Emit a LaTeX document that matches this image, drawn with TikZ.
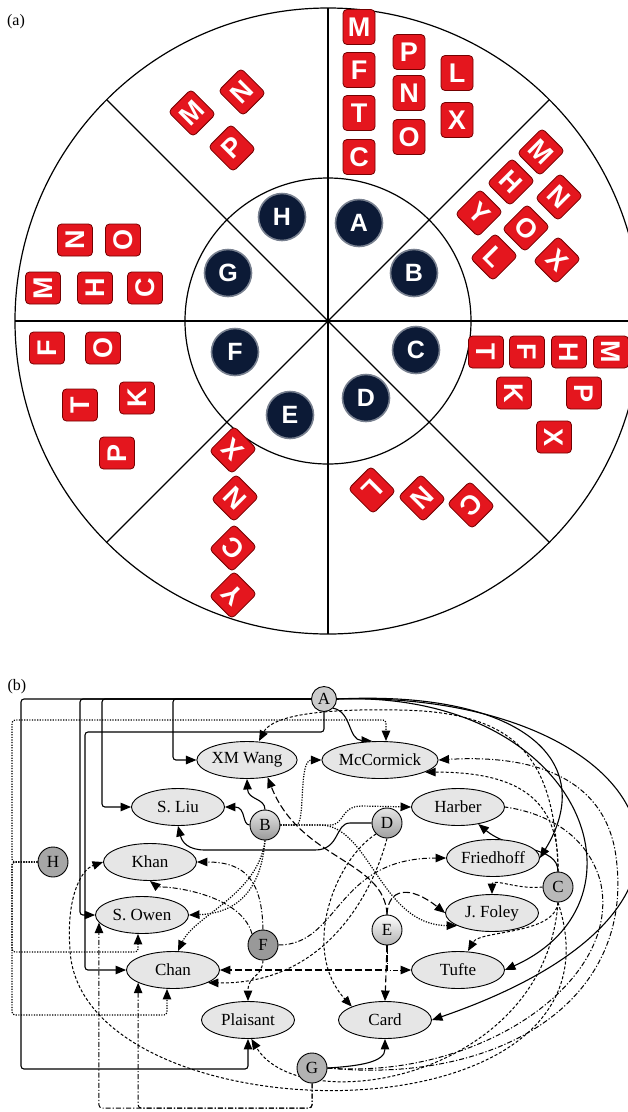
\documentclass[tikz,border=0pt]{standalone}
\usepackage{fontspec}
\setmainfont{Liberation Serif}
\newfontfamily\tilefont{Liberation Sans}
\usetikzlibrary{shapes.geometric, arrows.meta, positioning, backgrounds}
\definecolor{tilered}{RGB}{228,22,30}
\definecolor{knobblue}{RGB}{12,26,54}
\definecolor{authfill}{RGB}{230,230,230}

\begin{document}
\begin{tikzpicture}[x=1pt, y=-1pt, >={Triangle[length=10.5pt,width=8.5pt]},
  tilebox/.style={draw=red!45!black, line width=0.8pt, fill=tilered, rounded corners=4pt,
    minimum width=32pt, minimum height=35pt, inner sep=0pt, text=white,
    font=\tilefont\bfseries\fontsize{27}{27}\selectfont},
  knob/.style={circle, draw=knobblue!55!white, line width=1.6pt, fill=knobblue,
    minimum size=47pt, inner sep=0pt, text=white,
    font=\tilefont\bfseries\fontsize{25}{25}\selectfont},
  authornode/.style={ellipse, draw, line width=0.9pt, fill=authfill,
    minimum width=93pt, minimum height=37pt, inner sep=0pt,
    font=\fontsize{17}{17}\selectfont},
  letternode/.style={circle, draw, line width=0.9pt, minimum size=30pt,
    inner sep=0pt, font=\fontsize{17}{17}\selectfont},
  link/.style={->, line width=1.1pt},
  dotlink/.style={->, line width=1.2pt, dash pattern=on 1.2pt off 1.4pt},
  dashlink/.style={->, line width=1pt, dash pattern=on 3pt off 2pt},
  longlink/.style={->, line width=1.1pt, dash pattern=on 7pt off 3pt},
  dotdashlink/.style={->, line width=1pt, dash pattern=on 5pt off 2pt on 1.2pt off 2pt}]
\useasboundingbox (0,0) rectangle (628,1112);
\clip (0,0) rectangle (628,1112);

% (a) the wheel
\node[font=\fontsize{16}{16}\selectfont] (labela) at (16,22) {(a)};
\draw[line width=1.2pt] (328,321) circle[radius=313pt];
\draw[line width=1.2pt] (328,321) circle[radius=143pt];
\foreach \a in {0,45,...,315}
  \draw[line width=1.2pt] (328,321) -- ++(\a:313pt);

\foreach \l/\x/\y in {A/359/223, B/414/273, C/416/350, D/366/398,
                      E/290/415, F/235/352, G/228/273, H/282/217}
  \node[knob] (knob\l) at (\x,\y) {\l};

\foreach \l/\x/\y/\r [count=\i] in {
  M/359/27/0, F/359/70/0, T/359/113/0, C/359/157/0,
  P/409/52/0, N/409/93/0, O/409/137/0, L/457/73/0, X/457/120/0,
  M/192/113/45, N/242/92/45, P/232/148/45,
  M/541/152/-45, H/511/182/-45, N/559/197/-45, Y/479/213/-45,
  O/526/228/-45, L/494/257/-45, X/557/260/-45,
  N/75/240/90, O/123/240/90, M/43/288/90, H/95/288/90, C/145/288/90,
  F/47/348/90, O/103/348/90, T/80/405/90, K/137/398/90, P/117/453/90,
  X/233/450/135, N/235/498/135, C/233/548/135, Y/233/595/135,
  L/372/490/-135, N/422/498/-135, C/471/505/-135,
  T/486/352/-90, F/527/352/-90, H/569/352/-90, M/611/352/-90,
  K/514/393/-90, P/584/393/-90, X/554/437/-90}
  \node[tilebox, rotate=\r] (tile\i) at (\x,\y) {\l};

% (b) the graph
\node[font=\fontsize{16}{16}\selectfont] (labelb) at (17,687) {(b)};

\node[letternode, minimum size=25pt, fill=gray!40] (A) at (324,699) {A};
\node[letternode, top color=gray!20, bottom color=gray!80] (B) at (265,825) {B};
\node[letternode, fill=gray!55] (C) at (558,887) {C};
\node[letternode, top color=gray!20, bottom color=gray!75] (D) at (387,823) {D};
\node[letternode, top color=white, bottom color=gray!60] (E) at (387,930) {E};
\node[letternode, fill=gray!80] (F) at (263,945) {F};
\node[letternode, fill=gray!60] (G) at (312,1068) {G};
\node[letternode, fill=gray!70] (H) at (53,862) {H};

\node[authornode] (wang) at (247,760) {XM Wang};
\node[authornode, minimum width=102pt] (mccormick) at (380,760) {McCormick};
\node[authornode] (liu) at (178,807) {S. Liu};
\node[authornode] (harber) at (458,807) {Harber};
\node[authornode] (khan) at (150,862) {Khan};
\node[authornode] (friedhoff) at (493,858) {Friedhoff};
\node[authornode] (owen) at (142,915) {S. Owen};
\node[authornode] (foley) at (492,913) {J. Foley};
\node[authornode] (chan) at (173,970) {Chan};
\node[authornode] (tufte) at (458,970) {Tufte};
\node[authornode] (plaisant) at (248,1020) {Plaisant};
\node[authornode] (card) at (385,1020) {Card};

\begin{scope}[on background layer]
\clip (0,0) rectangle (628,1112);
% A
\draw[link, rounded corners=3pt] (A.west) -- (21,699) -- (21,1069) -| (plaisant.south);
\draw[link, rounded corners=3pt] (A.west) -- (80,699) |- (owen.west);
\draw[link, rounded corners=3pt] (A.west) -- (102,699) |- (liu.west);
\draw[link, rounded corners=3pt] (A.west) -- (173,699) |- (wang.west);
\draw[link, rounded corners=3pt] (A.south) -- (324,732) -- (85,732) |- (chan.west);
\draw[link] (A.south east) .. controls (352,712) and (348,740) .. ([xshift=-8pt]mccormick.north);
\draw[link] (A.east) .. controls (520,690) and (600,760) .. (friedhoff.east);
\draw[link] (A.east) .. controls (580,690) and (660,900) .. (tufte.east);
\draw[link] (A.east) .. controls (640,690) and (780,900) .. (card.east);
% H
\draw[dotlink, rounded corners=3pt] (H.west) -- (12,862) -- (12,720) -| ([xshift=6pt]mccormick.north);
\draw[dotlink, rounded corners=3pt] (H.west) -- (12,862) -- (12,952) -| ([xshift=-4pt]owen.south);
\draw[dotlink, rounded corners=3pt] (H.west) -- (12,862) -- (12,1015) -| ([xshift=-6pt]chan.south);
% B
\draw[link] (B.north) .. controls (265,798) and (248,800) .. (wang.south);
\draw[link] (B.west) .. controls (242,825) and (246,807) .. (liu.east);
\draw[dotlink] (B.east) -- (296,825) .. controls (306,825) and (298,760) .. (mccormick.west);
\draw[dotlink] (B.east) -- (330,825) .. controls (345,825) and (340,806) .. (362,806) -- (harber.west);
\draw[dotlink] (B.east) -- (320,825) .. controls (370,825) and (380,925) .. (foley.200);
\draw[dotlink] (B.south) .. controls (262,880) and (245,913) .. (owen.east);
\draw[dotlink] (B.south) .. controls (258,895) and (195,915) .. ([xshift=5pt]chan.north);
% D
\draw[link] (D.west) -- (350,823) .. controls (335,823) and (340,850) .. (315,850) -- (205,850)
  .. controls (188,850) and (182,842) .. (liu.south);
\draw[dashlink] (D.south west) .. controls (335,860) and (300,950) .. (card.north west);
\draw[dashlink] (D.south) .. controls (375,885) and (330,985) .. (chan.-20);
% C
\draw[link] (C.north) .. controls (558,845) and (512,852) .. (harber.-40);
\draw[dashlink] (C.north) .. controls (560,800) and (520,772) .. (mccormick.-15);
\draw[dashlink] (C.north) .. controls (555,760) and (520,712) .. (400,710)
  .. controls (300,708) and (270,720) .. ([xshift=12pt]wang.north);
\draw[dashlink] (C.west) .. controls (520,890) and (492,878) .. (foley.north);
\draw[dashlink] (C.south) .. controls (555,935) and (480,930) .. ([xshift=10pt]tufte.north);
\draw[dashlink] (C.south) .. controls (545,1080) and (300,1120) .. (plaisant.-80);
\draw[dashlink] (C.south) .. controls (640,1150) and (80,1140) .. (70,950)
  .. controls (66,900) and (80,870) .. (khan.west);
% E
\draw[longlink] (E.north) .. controls (385,860) and (300,860) .. (wang.-40);
\draw[longlink] (E.north) .. controls (388,888) and (410,885) .. (foley.west);
\draw[longlink] (E.south) -- (card.north);
\draw[longlink] (E.south) |- (chan.east);
\draw[dotdashlink] (E.south) |- (tufte.west);
% F
\draw[dotdashlink] (F.north) .. controls (262,880) and (245,862) .. (khan.east);
\draw[dotdashlink] (F.north west) .. controls (240,890) and (155,885) .. (khan.south);
\draw[dashlink] (F.south) .. controls (262,978) and (248,975) .. (plaisant.north);
\draw[dotdashlink] (F.east) .. controls (340,945) and (335,858) .. (friedhoff.west);
% G
\draw[link] (G.east) .. controls (360,1066) and (385,1062) .. (card.south);
\draw[dotdashlink, rounded corners=3pt] (G.south) -- (312,1108) -| (owen.190);
\draw[dotdashlink, rounded corners=3pt] (G.south) -- (312,1108) -| (chan.200);
\draw[dotdashlink] (G.east) .. controls (500,1085) and (640,1000) .. (615,850)
  .. controls (600,770) and (520,755) .. (mccormick.east);
\draw[dotdashlink, -] (G.east) .. controls (480,1080) and (625,980) .. (600,880)
  .. controls (585,830) and (540,812) .. (harber.east);
\end{scope}
\end{tikzpicture}
\end{document}
